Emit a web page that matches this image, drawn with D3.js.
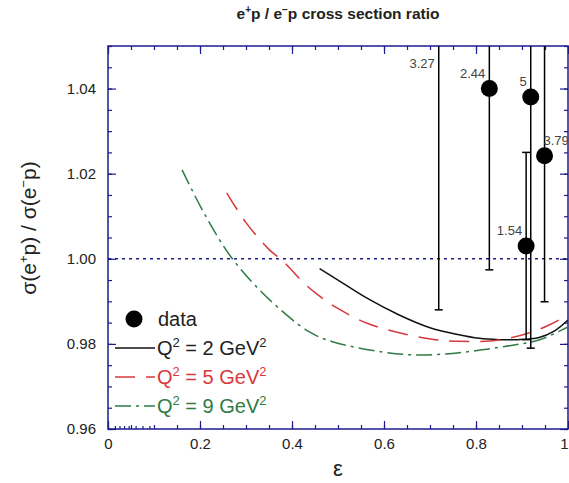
<!DOCTYPE html>
<html><head><meta charset="utf-8">
<script src="https://cdn.jsdelivr.net/npm/d3@7"></script>
<style>
body{margin:0;background:#fff;}
svg{display:block;font-family:"Liberation Sans",Arial,sans-serif;}
</style></head>
<body><svg id="c" width="569" height="483"></svg>
<script>
// ---- data ----
const pointEps    = [0.719, 0.829, 0.919, 0.949, 0.909];
const pointRatio  = [1.060, 1.040, 1.038, 1.0242, 1.003];
const pointErr    = [0.072, 0.0426, 0.059, 0.0343, 0.022];
const pointLabels = ["3.27", "2.44", "5", "3.79", "1.54"];

const q2Eps   = [0.460, 0.500, 0.562, 0.633, 0.700, 0.760, 0.807, 0.850, 0.890, 0.937, 0.970, 1.0];
const q2Ratio = [0.9977, 0.9950, 0.9908, 0.9868, 0.9838, 0.9822, 0.9813, 0.9810, 0.9810, 0.9815, 0.9830, 0.9856];

const q5Eps   = [0.258, 0.300, 0.351, 0.380, 0.423, 0.453, 0.497, 0.562, 0.633, 0.705, 0.764, 0.850, 0.922, 0.960, 1.0];
const q5Ratio = [1.0155, 1.0085, 1.0021, 0.9995, 0.9946, 0.9918, 0.9885, 0.9849, 0.9826, 0.9811, 0.9806, 0.9809, 0.9828, 0.9845, 0.9868];

const q9Eps   = [0.161, 0.210, 0.269, 0.351, 0.438, 0.488, 0.597, 0.670, 0.742, 0.813, 0.880, 0.937, 0.987, 1.0];
const q9Ratio = [1.0209, 1.0105, 1.0002, 0.9904, 0.9828, 0.9805, 0.9781, 0.9774, 0.9777, 0.9786, 0.9797, 0.9809, 0.9833, 0.9840];

const xTickVals   = [0, 0.2, 0.4, 0.6, 0.8, 1];
const xTickLabels = ["0", "0.2", "0.4", "0.6", "0.8", "1"];
const yTickVals   = [0.96, 0.98, 1.00, 1.02, 1.04];
const yTickLabels = ["0.96", "0.98", "1.00", "1.02", "1.04"];
const xExtraTicks = [0.015, 0.025, 0.035, 0.045, 0.06, 0.075, 0.09];

const legendItems = ["data", "2", "5", "9"];

// ---- layout ----
const svg = d3.select("#c");
const L = 108, R = 568, T = 46, B = 429;
const x = d3.scaleLinear().domain([0, 1]).range([L, R]);
const y = d3.scaleLinear().domain([0.96, 1.05]).range([B, T]);
const axisCol = "#1c1c8f";
const red = "#d8383c", green = "#2f7a45";

svg.append("defs").append("clipPath").attr("id", "clip")
  .append("rect").attr("x", L).attr("y", T).attr("width", R - L).attr("height", B - T);

// title
const title = svg.append("text").attr("x", 338).attr("y", 19).attr("text-anchor", "middle")
  .attr("font-weight", "bold").attr("font-size", 15.5).attr("fill", "#222");
title.append("tspan").text("e");
title.append("tspan").text("+").attr("font-size", 10).attr("dy", -6);
title.append("tspan").text("p / e").attr("dy", 6);
title.append("tspan").text("\u2212").attr("font-size", 10).attr("dy", -6);
title.append("tspan").text("p cross section ratio").attr("dy", 6);

// axes
function styleAxis(g) {
  g.select(".domain").remove();
  g.selectAll(".tick line").attr("stroke", axisCol).attr("stroke-width", 1.2);
  g.selectAll(".tick text").attr("fill", "#222").attr("font-size", 15)
    .attr("font-family", "Liberation Sans, Arial, sans-serif");
}
const xMinor = d3.range(0, 1.0001, 0.05);
const yMinor = d3.range(0.96, 1.0501, 0.005);

svg.append("g").attr("transform", `translate(0,${B})`)
  .call(d3.axisBottom(x).tickValues(xMinor).tickSize(-4).tickFormat("")).call(styleAxis);
svg.append("g").attr("transform", `translate(0,${B})`)
  .call(d3.axisBottom(x).tickValues(xExtraTicks).tickSize(-3).tickFormat("")).call(styleAxis);
const xAx = svg.append("g").attr("transform", `translate(0,${B})`)
  .call(d3.axisBottom(x).tickValues(xTickVals).tickSize(-8).tickPadding(9)
    .tickFormat((d, i) => xTickLabels[i])).call(styleAxis);
xAx.selectAll(".tick text").filter(d => d === 1).attr("text-anchor", "end").attr("dx", 0);
svg.append("g").attr("transform", `translate(0,${T})`)
  .call(d3.axisTop(x).tickValues(xMinor).tickSize(-4).tickFormat("")).call(styleAxis);
svg.append("g").attr("transform", `translate(0,${T})`)
  .call(d3.axisTop(x).tickValues(xTickVals).tickSize(-8).tickFormat("")).call(styleAxis);

svg.append("g").attr("transform", `translate(${L},0)`)
  .call(d3.axisLeft(y).tickValues(yMinor).tickSize(-4).tickFormat("")).call(styleAxis);
svg.append("g").attr("transform", `translate(${L},0)`)
  .call(d3.axisLeft(y).tickValues(yTickVals).tickSize(-8).tickPadding(12)
    .tickFormat((d, i) => yTickLabels[i])).call(styleAxis);
svg.append("g").attr("transform", `translate(${R},0)`)
  .call(d3.axisRight(y).tickValues(yMinor).tickSize(-4).tickFormat("")).call(styleAxis);
svg.append("g").attr("transform", `translate(${R},0)`)
  .call(d3.axisRight(y).tickValues(yTickVals).tickSize(-8).tickFormat("")).call(styleAxis);

// frame
svg.append("rect").attr("x", L).attr("y", T).attr("width", R - L).attr("height", B - T)
  .attr("fill", "none").attr("stroke", axisCol).attr("stroke-width", 1.5);

// axis labels
svg.append("text").attr("x", 338).attr("y", 476).attr("text-anchor", "middle")
  .attr("font-size", 22).attr("fill", "#222").text("\u03b5");
const yl = svg.append("text").attr("transform", "translate(36,228) rotate(-90)")
  .attr("text-anchor", "middle").attr("font-size", 21).attr("fill", "#222");
yl.append("tspan").text("\u03c3(e");
yl.append("tspan").text("+").attr("font-size", 13).attr("dy", -8);
yl.append("tspan").text("p) / \u03c3(e").attr("dy", 8);
yl.append("tspan").text("\u2212").attr("font-size", 13).attr("dy", -8);
yl.append("tspan").text("p)").attr("dy", 8);

// reference line
svg.append("line").attr("x1", L).attr("x2", R).attr("y1", y(1)).attr("y2", y(1))
  .attr("stroke", axisCol).attr("stroke-width", 1.5).attr("stroke-dasharray", "3,4");

// curves
const plot = svg.append("g").attr("clip-path", "url(#clip)");
const line = d3.line().x(d => x(d[0])).y(d => y(d[1])).curve(d3.curveCatmullRom);
const curves = [
  {xs: q2Eps, ys: q2Ratio, col: "#111", dash: null},
  {xs: q5Eps, ys: q5Ratio, col: red, dash: "20,11"},
  {xs: q9Eps, ys: q9Ratio, col: green, dash: "16,5,3,5"}
];
curves.forEach(c => {
  plot.append("path").datum(c.xs.map((v, i) => [v, c.ys[i]]))
    .attr("d", line).attr("fill", "none").attr("stroke", c.col).attr("stroke-width", 1.5)
    .attr("stroke-dasharray", c.dash);
});

// data points with error bars
const pts = pointEps.map((e, i) => ({e, v: pointRatio[i], err: pointErr[i], lab: pointLabels[i]}));
pts.forEach(p => {
  const px = x(p.e);
  plot.append("line").attr("x1", px).attr("x2", px).attr("y1", y(p.v + p.err)).attr("y2", y(p.v - p.err))
    .attr("stroke", "#000").attr("stroke-width", 1.5);
  [p.v + p.err, p.v - p.err].forEach(v => {
    plot.append("line").attr("x1", px - 4).attr("x2", px + 4).attr("y1", y(v)).attr("y2", y(v))
      .attr("stroke", "#000").attr("stroke-width", 1.5);
  });
  plot.append("circle").attr("cx", px).attr("cy", y(p.v)).attr("r", 8.5).attr("fill", "#000");
});
pts.forEach((p, i) => {
  const px = x(p.e);
  const py = Math.max(y(p.v), T + 33);
  const nearEdge = px > R - 30;
  svg.append("text").attr("x", nearEdge ? px - 1 : px - 4).attr("y", py - 11)
    .attr("text-anchor", nearEdge ? "start" : "end")
    .attr("font-size", 13).attr("fill", "#444").text(p.lab);
});

// legend
const lg = svg.append("g");
const lx0 = 115, lx1 = 155, ly0 = 319, ldy = 29;
lg.append("circle").attr("cx", 134).attr("cy", ly0).attr("r", 8.5).attr("fill", "#000");
lg.append("text").attr("x", 158).attr("y", ly0 + 7).attr("font-size", 20).attr("fill", "#222").text(legendItems[0]);
curves.forEach((c, i) => {
  const ly = ly0 + ldy * (i + 1);
  lg.append("line").attr("x1", lx0).attr("x2", lx1).attr("y1", ly).attr("y2", ly)
    .attr("stroke", c.col).attr("stroke-width", 1.5).attr("stroke-dasharray", c.dash);
  const t = lg.append("text").attr("x", 157).attr("y", ly + 7).attr("font-size", 20).attr("fill", c.col === "#111" ? "#222" : c.col);
  t.append("tspan").text("Q");
  t.append("tspan").text("2").attr("font-size", 13).attr("dy", -8);
  t.append("tspan").text(" = " + legendItems[i + 1] + " GeV").attr("dy", 8);
  t.append("tspan").text("2").attr("font-size", 13).attr("dy", -8);
});
</script></body></html>
